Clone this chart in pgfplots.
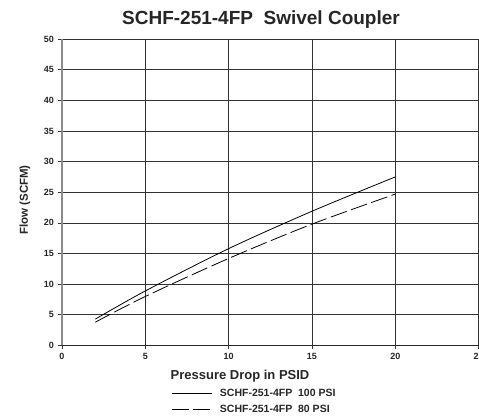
\documentclass[border=0pt]{standalone}
\usepackage{pgfplots}
\pgfplotsset{compat=1.18}
\usepackage{fontspec}
\setmainfont{Liberation Sans}
\begin{document}
\begin{tikzpicture}
\begin{axis}[
  at={(0pt,0pt)}, anchor=south west,
  scale only axis,
  width=416.6pt, height=306.5pt,
  xmin=0, xmax=25, ymin=0, ymax=50,
  xtick={0,5,10,15,20,25},
  ytick={0,5,10,15,20,25,30,35,40,45,50},
  axis lines*=left,
  grid=major,
  major grid style={draw=black!80, line width=0.7pt},
  y axis line style={draw=black!45, line width=1.6pt},
  x axis line style={draw=black!85, line width=0.9pt},
  tick align=outside,
  major tick length=3.5pt,
  tick style={draw=black!80, line width=0.7pt},
  /pgf/number format/assume math mode=true,
  tick label style={font=\bfseries\fontsize{9}{10}\selectfont, text=black!85},
  yticklabel style={xshift=-1pt},
  xticklabel style={yshift=-1pt},
  legend style={at={(0.2616,-0.135)}, anchor=north west, draw=none, fill=none,
    font=\bfseries\fontsize{10.5}{12}\selectfont, text=black!85,
    inner sep=0pt, row sep=3pt},
  legend cell align=left,
  legend image code/.code={\draw[#1] (0pt,0pt) -- (40pt,0pt); \path (46pt,0pt);},
]
\addplot[black, line width=0.8pt, smooth] coordinates {
  (2,4.3) (5,8.9) (10,15.8) (15,21.9) (20,27.5)};
\addlegendentry{SCHF-251-4FP\ \ 100 PSI}
\addplot[black, line width=0.8pt, smooth, dash pattern=on 17pt off 4.5pt] coordinates {
  (2,3.8) (5,8.0) (10,14.2) (15,19.8) (20,24.7)};
\addlegendentry{SCHF-251-4FP\ \ 80 PSI}
\end{axis}
\node[anchor=base, font=\bfseries\fontsize{19}{22}\selectfont, text=black!85] at (199pt,320.5pt) {SCHF-251-4FP\ \ Swivel Coupler};
\node[anchor=base, font=\bfseries\fontsize{13}{15}\selectfont, text=black!85] at (178pt,-34.5pt) {Pressure Drop in PSID};
\node[anchor=base, rotate=90, font=\bfseries\fontsize{11.5}{13}\selectfont, text=black!85] at (-34pt,145.5pt) {Flow (SCFM)};
\pgfresetboundingbox
\path[use as bounding box] (-62pt,-73.5pt) rectangle (417pt,345.5pt);
\end{tikzpicture}
\end{document}
